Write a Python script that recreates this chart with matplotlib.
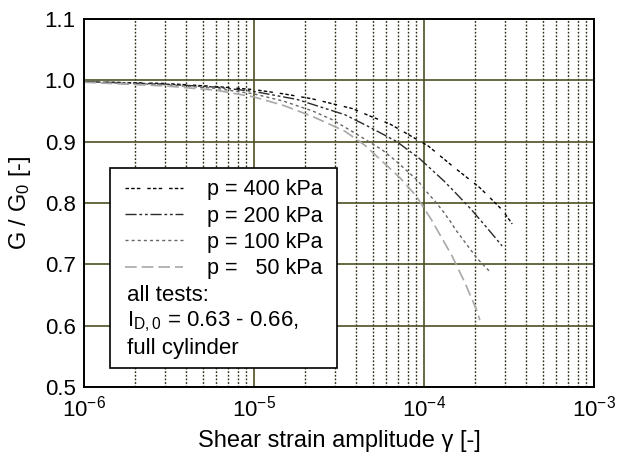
import matplotlib
matplotlib.use("Agg")
import matplotlib.pyplot as plt
from matplotlib.patches import Rectangle
from matplotlib.ticker import LogLocator, NullFormatter

plt.rcParams['font.family'] = ['Liberation Sans', 'DejaVu Sans']
plt.rcParams['mathtext.fontset'] = 'custom'
plt.rcParams['mathtext.rm'] = 'Liberation Sans'
plt.rcParams['mathtext.it'] = 'Liberation Sans'
plt.rcParams['mathtext.default'] = 'regular'

# shear strain amplitude and G/G0
x_400 = [1e-6, 3.0e-6, 6.0e-6, 1.0e-5, 1.5e-5, 2.2e-5, 3.8e-5, 4.8e-5, 6.3e-5, 1.06e-4, 1.46e-4, 2.13e-4, 2.88e-4, 3.3e-4]
y_400 = [0.998, 0.995, 0.990, 0.985, 0.978, 0.970, 0.954, 0.942, 0.929, 0.893, 0.861, 0.825, 0.789, 0.766]

x_200 = [1e-6, 3.0e-6, 6.0e-6, 1.0e-5, 1.79e-5, 3.43e-5, 4.62e-5, 5.58e-5, 6.93e-5, 9.46e-5, 1.31e-4, 1.54e-4, 1.89e-4, 2.44e-4, 2.88e-4]
y_200 = [0.998, 0.994, 0.989, 0.982, 0.969, 0.944, 0.926, 0.914, 0.900, 0.872, 0.836, 0.816, 0.790, 0.754, 0.730]

x_100 = [1e-6, 3.0e-6, 6.0e-6, 1.0e-5, 1.5e-5, 2.22e-5, 2.88e-5, 3.82e-5, 5.66e-5, 6.74e-5, 7.83e-5, 9.23e-5, 1.03e-4, 1.16e-4, 1.29e-4, 1.42e-4, 1.54e-4, 1.70e-4, 1.89e-4, 2.08e-4, 2.48e-4]
y_100 = [0.998, 0.993, 0.987, 0.978, 0.966, 0.950, 0.936, 0.916, 0.887, 0.870, 0.854, 0.836, 0.819, 0.803, 0.787, 0.771, 0.756, 0.740, 0.723, 0.708, 0.686]

x_50 = [1e-6, 3.0e-6, 6.0e-6, 1.0e-5, 1.5e-5, 2.22e-5, 3.43e-5, 4.5e-5, 5.58e-5, 7.23e-5, 8.97e-5, 1.11e-4, 1.26e-4, 1.46e-4, 1.74e-4, 2.05e-4, 2.13e-4]
y_50 = [0.997, 0.991, 0.984, 0.973, 0.959, 0.941, 0.917, 0.894, 0.870, 0.841, 0.812, 0.772, 0.745, 0.714, 0.670, 0.624, 0.609]

labels = ['p = 400 kPa', 'p = 200 kPa', 'p = 100 kPa', 'p =   50 kPa']
notes = ['all tests:', '$I_{D,0}$ = 0.63 - 0.66,', 'full cylinder']

fig = plt.figure(figsize=(6.23, 4.55), dpi=100)
ax = fig.add_axes([0.1348, 0.1495, 0.8187, 0.8085])

l1, = ax.plot(x_400, y_400, color='black', lw=1.0, dashes=(2.5, 1.6, 2.5, 1.6, 2.5, 5))
l2, = ax.plot(x_200, y_200, color='#2a2a2a', lw=1.0, dashes=(8, 2, 2, 2, 2, 2))
l3, = ax.plot(x_100, y_100, color='#666666', lw=1.0, dashes=(2.2, 2.2))
l4, = ax.plot(x_50, y_50, color='#a8a8a8', lw=1.2, dashes=(7, 3))

ax.set_xscale('log')
ax.set_xlim(1e-6, 1e-3)
ax.set_ylim(0.5, 1.1)
ax.set_yticks([0.5, 0.6, 0.7, 0.8, 0.9, 1.0, 1.1])
ax.xaxis.set_minor_locator(LogLocator(base=10, subs=range(2, 10)))
ax.xaxis.set_minor_formatter(NullFormatter())

ax.grid(which='major', color='#4f4f25', lw=1.2, ls='-')
ax.grid(which='minor', axis='x', color='#2e2e16', lw=1.0, ls=(0, (1.3, 1.3)))
ax.set_axisbelow(True)
ax.tick_params(which='both', length=0, labelsize=16, pad=6)
for s in ax.spines.values():
    s.set_linewidth(1.4)
    s.set_color('black')

ax.set_xlabel('Shear strain amplitude γ [-]', fontsize=17, labelpad=6)
ax.set_ylabel('G / G$_0$ [-]', fontsize=17, labelpad=8)

box = Rectangle((0.051, 0.052), 0.445, 0.543, transform=ax.transAxes,
                facecolor='white', edgecolor='black', lw=1.2, zorder=5)
ax.add_patch(box)

leg = ax.legend([l1, l2, l3, l4], labels, loc='upper left', bbox_to_anchor=(0.055, 0.6),
                frameon=False, fontsize=15.5, handlelength=2.7, handletextpad=1.1,
                labelspacing=0.25, borderaxespad=0.2)
leg.set_zorder(6)

for i, t in enumerate(notes):
    ax.text(0.084, 0.25 - i * 0.073, t, transform=ax.transAxes, fontsize=16,
            va='center', ha='left', zorder=7)

fig.savefig('out.png', dpi=100)
